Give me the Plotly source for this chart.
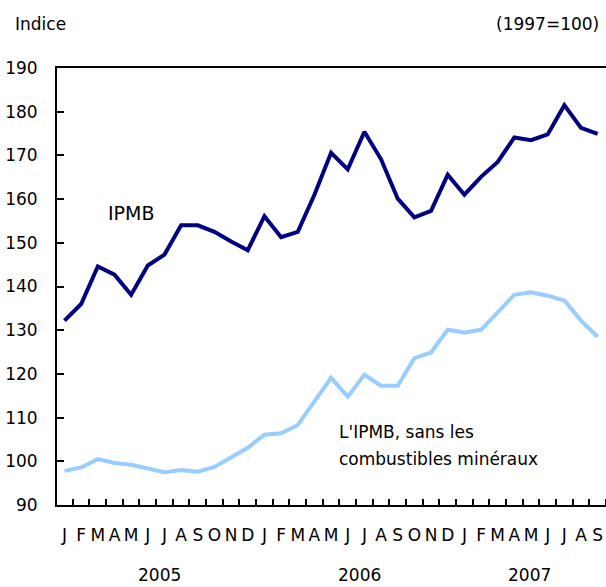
import plotly.graph_objects as go

months = ["J", "F", "M", "A", "M", "J", "J", "A", "S", "O", "N", "D",
          "J", "F", "M", "A", "M", "J", "J", "A", "S", "O", "N", "D",
          "J", "F", "M", "A", "M", "J", "J", "A", "S"]
years = ["2005", "2006", "2007"]
year_centers = [5.7, 17.7, 27.9]

ipmb = [132.2, 136.0, 144.6, 142.7, 138.1, 144.8, 147.3, 154.0, 154.0, 152.5, 150.3, 148.3,
        156.1, 151.3, 152.5, 161.0, 170.6, 166.8, 175.4, 169.1, 160.1, 155.8, 157.3, 165.6,
        161.0, 165.1, 168.5, 174.1, 173.5, 174.8, 181.5, 176.3, 174.9]
ipmb_sans = [97.8, 98.6, 100.5, 99.6, 99.2, 98.4, 97.5, 98.0, 97.6, 98.7, 101.0, 103.1,
             106.1, 106.4, 108.3, 113.6, 119.1, 114.8, 119.8, 117.3, 117.3, 123.6, 124.9, 130.1,
             129.5, 130.1, 134.1, 138.1, 138.7, 137.9, 136.8, 132.2, 128.5]

x = list(range(len(months)))
FONT = "DejaVu Sans, Liberation Sans, sans-serif"

fig = go.Figure()
fig.add_trace(go.Scatter(x=x, y=ipmb, mode="lines",
                         line=dict(color="#000080", width=4), hoverinfo="skip"))
fig.add_trace(go.Scatter(x=x, y=ipmb_sans, mode="lines",
                         line=dict(color="#99CCFF", width=4), hoverinfo="skip"))

fig.update_layout(
    width=606, height=587,
    margin=dict(l=57, r=0, t=68, b=82),
    paper_bgcolor="white", plot_bgcolor="white",
    showlegend=False,
    font=dict(family=FONT, size=17, color="black"),
    xaxis=dict(range=[-0.45, 32.5], tickvals=x, ticktext=months,
               ticks="", showgrid=False, zeroline=False,
               showline=True, linecolor="black", linewidth=2, mirror=True,
               ticklabelstandoff=14,
               minor=dict(tick0=0.5, dtick=1, ticks="inside", ticklen=6,
                          tickwidth=1.5, tickcolor="black", showgrid=False),
               tickfont=dict(size=17)),
    yaxis=dict(range=[90, 190], tickvals=list(range(90, 191, 10)),
               ticks="inside", ticklen=7, tickwidth=1.5, tickcolor="black",
               showgrid=False, zeroline=False,
               showline=True, linecolor="black", linewidth=2,
               ticklabelstandoff=14, tickfont=dict(size=17)),
)

for yr, c in zip(years, year_centers):
    fig.add_annotation(x=c, y=-0.161, xref="x", yref="paper", text=yr,
                       showarrow=False, xanchor="center", yanchor="middle",
                       font=dict(size=17))

fig.add_annotation(x=-0.08, y=1.1, xref="paper", yref="paper", text="Indice",
                   showarrow=False, xanchor="left", yanchor="middle", font=dict(size=17))
fig.add_annotation(x=0.991, y=1.1, xref="paper", yref="paper", text="(1997=100)",
                   showarrow=False, xanchor="right", yanchor="middle", font=dict(size=17))
fig.add_annotation(x=2.5, y=156.8, xref="x", yref="y", text="IPMB",
                   showarrow=False, xanchor="left", yanchor="middle", font=dict(size=19))
fig.add_annotation(x=16.35, y=106.8, xref="x", yref="y", text="L'IPMB, sans les",
                   showarrow=False, xanchor="left", yanchor="middle", font=dict(size=17))
fig.add_annotation(x=16.35, y=100.5, xref="x", yref="y", text="combustibles minéraux",
                   showarrow=False, xanchor="left", yanchor="middle", font=dict(size=17))

fig.write_html("out.html", config={"displayModeBar": False},
               post_script="document.body.style.margin='0';document.body.style.overflow='hidden';")
